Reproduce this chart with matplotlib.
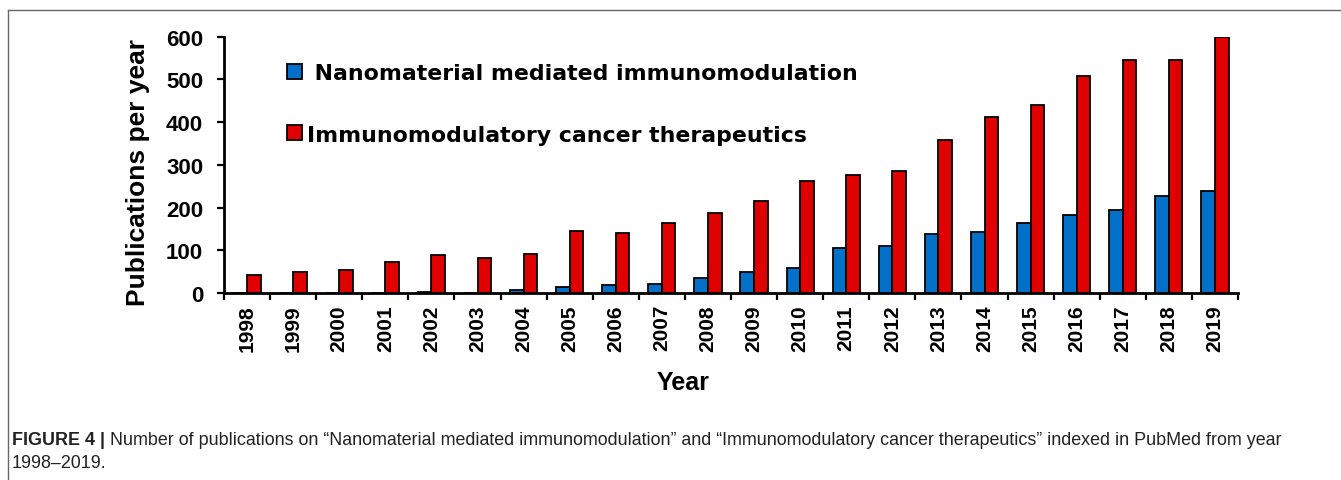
import matplotlib.pyplot as plt
from matplotlib.lines import Line2D
from matplotlib.patches import Patch
import numpy as np

# datos
years = [str(y) for y in range(1998, 2020)]
nano = [0, 0, 0, 0, 2, 0, 7, 13, 19, 21, 35, 50, 58, 105, 110, 139, 142, 165, 182, 195, 226, 238]
immuno = [42, 50, 54, 72, 90, 83, 91, 145, 140, 163, 187, 216, 262, 276, 286, 358, 413, 441, 507, 546, 546, 600]

label_nano = " Nanomaterial mediated immunomodulation"
label_immuno = "Immunomodulatory cancer therapeutics"
caption_bold = "FIGURE 4 | "
caption_rest = ("Number of publications on \u201cNanomaterial mediated immunomodulation\u201d and "
                "\u201cImmunomodulatory cancer therapeutics\u201d indexed in PubMed from year")
caption_line2 = "1998\u20132019."

blue = "#0070C8"
red = "#E00000"

plt.rcParams['font.family'] = ['Liberation Sans', 'DejaVu Sans']

W, H = 1341, 481
fig = plt.figure(figsize=(W/100, H/100), dpi=100)
ax = fig.add_axes([224/W, 1 - 294/H, (1238 - 224)/W, (294 - 37.7)/H])

x = np.arange(len(years))
w = 0.295
ax.bar(x - w/2, nano, w, color=blue, edgecolor="black", linewidth=1.3)
ax.bar(x + w/2, immuno, w, color=red, edgecolor="black", linewidth=1.3)

ax.set_xlim(-0.5, len(years) - 0.5)
ax.set_ylim(0, 600)
ax.set_yticks(range(0, 601, 100))
ax.tick_params(axis="y", labelsize=16, width=1.6, length=5, pad=10)
for t in ax.get_yticklabels():
    t.set_fontweight("bold")

# ticks en los limites de cada categoria, etiquetas al centro
ax.set_xticks(np.arange(len(years) + 1) - 0.5)
ax.set_xticklabels([])
ax.tick_params(axis="x", which="major", width=1.6, length=5)
ax.set_xticks(x, minor=True)
ax.set_xticklabels(years, minor=True, rotation=90, fontsize=15, fontweight="bold")
ax.tick_params(axis="x", which="minor", length=0, pad=8)

for s in ["top", "right"]:
    ax.spines[s].set_visible(False)
ax.spines["left"].set_linewidth(2)
ax.spines["bottom"].set_linewidth(2)

ax.set_ylabel("Publications per year", fontsize=19, fontweight="bold")
ax.yaxis.set_label_coords((150 - 224)/1014, 0.474)
ax.set_xlabel("Year", fontsize=18, fontweight="bold")
ax.xaxis.set_label_coords((683.5 - 224)/1014, -0.30)

handles = [Patch(facecolor=blue, edgecolor="black", linewidth=1.3),
           Patch(facecolor=red, edgecolor="black", linewidth=1.3)]
ax.legend(handles, [label_nano, label_immuno], loc="upper left",
          bbox_to_anchor=((287 - 224)/1014, 0.898), frameon=False,
          prop={"family": "DejaVu Sans", "size": 15.8, "weight": "bold"},
          labelspacing=1.9, borderpad=0, borderaxespad=0,
          handlelength=0.68, handleheight=0.68, handletextpad=0.22)

# marco de la figura
fig.add_artist(Line2D([8/W, 8/W], [0, 1 - 11/H], color="#666666", linewidth=1))
fig.add_artist(Line2D([8/W, 1], [1 - 11/H, 1 - 11/H], color="#666666", linewidth=1))

# pie de figura
cap_size = 12.9
t1 = fig.text(12/W, 1 - 445/H, caption_bold, fontsize=cap_size, fontweight="bold",
              color="#222222", va="baseline")
fig.canvas.draw()
bb = t1.get_window_extent()
fig.text(bb.x1/W, 1 - 445/H, caption_rest, fontsize=cap_size, color="#222222", va="baseline")
fig.text(12/W, 1 - 468/H, caption_line2, fontsize=cap_size, color="#222222", va="baseline")

fig.savefig("out.png", dpi=100)
